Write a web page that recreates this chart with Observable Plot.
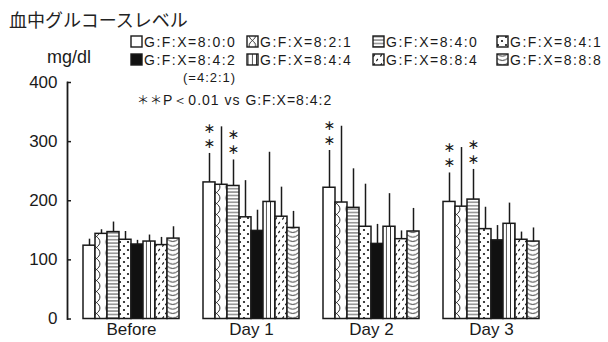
<!DOCTYPE html>
<html><head><meta charset="utf-8">
<script src="https://cdn.jsdelivr.net/npm/d3@7"></script>
<script src="https://cdn.jsdelivr.net/npm/@observablehq/plot@0.6"></script>
<style>
body{margin:0;background:#fff;}
#wrap{position:relative;width:608px;height:342px;overflow:hidden;font-family:"Liberation Sans",Arial,sans-serif;color:#1a1a1a;background:#fff;}
#wrap svg.plot{position:absolute;left:0;top:0;}
.abs{position:absolute;white-space:nowrap;}
#title{left:9px;top:10px;font-family:"Noto Sans CJK JP",sans-serif;font-size:18px;line-height:18px;font-weight:normal;color:#222;}
#unit{left:47px;top:48px;font-family:"Liberation Sans Narrow","Liberation Sans",sans-serif;font-size:18px;line-height:18px;font-weight:normal;}
.leg{font-size:14px;line-height:14px;letter-spacing:1.5px;display:flex;align-items:center;}
.leg svg{display:block;}
#note{left:137px;top:93px;font-size:14px;line-height:14px;letter-spacing:1px;}
#note .ast{font-family:"Noto Sans CJK JP";font-size:12px;color:#1a1a1a;}
#eq{left:183px;top:71px;font-size:13px;line-height:13px;letter-spacing:1px;}
</style></head><body>
<svg width="0" height="0" style="position:absolute;left:0;top:0">
<defs>
<pattern id="pat0" patternUnits="userSpaceOnUse" width="10" height="10"><rect width="10" height="10" fill="#fff"/></pattern>
<pattern id="pat1" patternUnits="userSpaceOnUse" width="12.7" height="22">
 <rect width="12.7" height="22" fill="#fff"/>
 <path d="M3,0 C3,5 9.7,6 9.7,11 C9.7,16 3,17 3,22" fill="none" stroke="#111" stroke-width="0.9"/>
 <path d="M9.7,0 C9.7,5 3,6 3,11 C3,16 9.7,17 9.7,22" fill="none" stroke="#111" stroke-width="0.9"/>
</pattern>
<pattern id="pat2" patternUnits="userSpaceOnUse" width="6" height="3.4">
 <rect width="6" height="3.4" fill="#fff"/>
 <line x1="0" x2="6" y1="1.7" y2="1.7" stroke="#111" stroke-width="0.8"/>
</pattern>
<pattern id="pat3" patternUnits="userSpaceOnUse" width="8" height="8">
 <rect width="8" height="8" fill="#fff"/>
 <circle cx="2" cy="2" r="1.1" fill="#111"/><circle cx="6" cy="6" r="1.1" fill="#111"/>
</pattern>
<pattern id="pat4" patternUnits="userSpaceOnUse" width="10" height="10"><rect width="10" height="10" fill="#111"/></pattern>
<pattern id="pat5" patternUnits="userSpaceOnUse" width="4.2" height="10">
 <rect width="4.2" height="10" fill="#fff"/>
 <line x1="2.1" x2="2.1" y1="0" y2="10" stroke="#111" stroke-width="0.8"/>
</pattern>
<pattern id="pat6" patternUnits="userSpaceOnUse" width="7" height="9">
 <rect width="7" height="9" fill="#fff"/>
 <line x1="1.4" y1="3.6" x2="2.8" y2="1.4" stroke="#111" stroke-width="1.1"/>
 <line x1="4.4" y1="8.1" x2="5.8" y2="5.9" stroke="#111" stroke-width="1.1"/>
</pattern>
<pattern id="pat7" patternUnits="userSpaceOnUse" width="12.7" height="4.5">
 <rect width="12.7" height="4.5" fill="#fff"/>
 <path d="M0.6,0.6 Q6.35,5.6 12.1,0.6" fill="none" stroke="#111" stroke-width="0.9"/>
</pattern>
</defs></svg>
<div id="wrap">
 <div id="title" class="abs">血中グルコースレベル</div>
 <div id="unit" class="abs">mg/dl</div>
 <div id="eq" class="abs">(=4:2:1)</div>
 <div id="note" class="abs"><span class="ast">＊＊</span>P＜0.01 vs G:F:X=8:4:2</div>
</div>
<script>
// ---- data ----
const days = ["Before", "Day 1", "Day 2", "Day 3"];
const groups = ["G:F:X=8:0:0","G:F:X=8:2:1","G:F:X=8:4:0","G:F:X=8:4:1","G:F:X=8:4:2","G:F:X=8:4:4","G:F:X=8:8:4","G:F:X=8:8:8"];
const meanBefore = [124, 144, 147, 134, 126, 131, 125, 136];
const meanDay1   = [231, 227, 225, 172, 149, 198, 173, 154];
const meanDay2   = [222, 197, 188, 156, 127, 156, 135, 148];
const meanDay3   = [198, 190, 202, 152, 133, 161, 134, 131];
const sdBefore = [11, 7, 17, 14, 7, 11, 13, 20];
const sdDay1   = [49, 98, 44, 62, 35, 84, 50, 28];
const sdDay2   = [63, 129, 66, 72, 33, 56, 14, 39];
const sdDay3   = [49, 100, 51, 37, 25, 35, 13, 23];
const significant = [["Day 1","G:F:X=8:0:0"],["Day 1","G:F:X=8:4:0"],["Day 2","G:F:X=8:0:0"],["Day 3","G:F:X=8:0:0"],["Day 3","G:F:X=8:4:0"]];
const yTicks = [0, 100, 200, 300, 400];

// ---- build table ----
const means = [meanBefore, meanDay1, meanDay2, meanDay3];
const sds = [sdBefore, sdDay1, sdDay2, sdDay3];
const patterns = groups.map((g, i) => `url(#pat${i})`);
const rows = [];
days.forEach((d, di) => groups.forEach((g, gi) => rows.push({
  day: d, group: g, mean: means[di][gi], top: means[di][gi] + sds[di][gi], pat: patterns[gi]
})));
const sigRows = significant.map(([d, g]) => rows.find(r => r.day === d && r.group === g));

const ink = "#1a1a1a";
const star = {fx: "day", x: "group", y: "top", text: () => "∗", fontFamily: "DejaVu Sans", fontSize: 14, fill: ink};
const chart = Plot.plot({
  width: 608, height: 342,
  marginTop: 82, marginBottom: 23.5, marginLeft: 66, marginRight: 53,
  style: {fontFamily: "Liberation Sans, Arial, sans-serif", fontSize: "17px", fontWeight: "normal", color: ink, background: "transparent"},
  fx: {domain: days, paddingInner: 0.15, paddingOuter: 0.108, label: null},
  x: {domain: groups, padding: 0, axis: null},
  y: {domain: [0, 400], label: null},
  color: {type: "identity"},
  marks: [
    Plot.barY(rows, {fx: "day", x: "group", y: "mean", fill: "pat", stroke: ink, strokeWidth: 1.5}),
    Plot.ruleX(rows, {fx: "day", x: "group", y1: "mean", y2: "top", stroke: ink, strokeWidth: 1.5}),
    Plot.text(sigRows, {...star, dy: -10}),
    Plot.text(sigRows, {...star, dy: -25}),
    Plot.axisY({anchor: "left", ticks: yTicks, tickFormat: d => d, tickSize: -4, tickPadding: 14, dx: -13, strokeWidth: 1.5, fontSize: 17, fontWeight: "normal", label: null}),
    Plot.frame({anchor: "left", fx: () => "Before", dx: -13, strokeWidth: 1.8, stroke: ink}),
    Plot.axisFx({anchor: "bottom", tickSize: 0, tickPadding: 4, fontSize: 17, fontWeight: "normal", label: null})
  ]
});
chart.classList.add("plot");
const wrap = document.getElementById("wrap");
wrap.insertBefore(chart, wrap.firstChild);

// legend
const legX = [130, 246, 372, 496];
groups.forEach((g, i) => {
  const row = Math.floor(i / 4), col = i % 4;
  const div = document.createElement("div");
  div.className = "abs leg";
  div.style.left = legX[col] + "px";
  div.style.top = (row === 0 ? 35 : 53) + "px";
  const ns = "http://www.w3.org/2000/svg";
  const s = document.createElementNS(ns, "svg");
  s.setAttribute("width", 14); s.setAttribute("height", 14);
  const r = document.createElementNS(ns, "rect");
  r.setAttribute("x", 1); r.setAttribute("y", 1); r.setAttribute("width", 11); r.setAttribute("height", 11);
  r.setAttribute("fill", patterns[i]); r.setAttribute("stroke", ink); r.setAttribute("stroke-width", 1.4);
  s.appendChild(r);
  div.appendChild(s);
  const t = document.createElement("span");
  t.textContent = g;
  div.appendChild(t);
  wrap.appendChild(div);
});
</script>
</body></html>
